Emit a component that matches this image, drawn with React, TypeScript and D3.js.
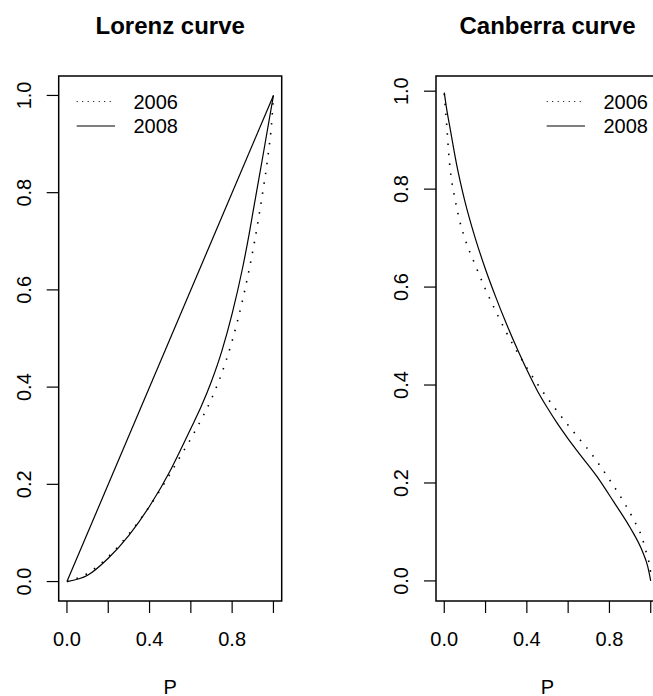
import * as d3 from 'd3'

// Lorenz curve values
const P_LORENZ_2008 = [0, 0.1, 0.2, 0.3, 0.4, 0.5, 0.54, 0.6, 0.65, 0.7, 0.75, 0.8, 0.85, 0.882, 0.9, 0.95, 1]
const LORENZ_2008 = [0, 0.013, 0.048, 0.095, 0.155, 0.228, 0.262, 0.315, 0.36, 0.412, 0.474, 0.551, 0.644, 0.714, 0.758, 0.878, 1]
const P_LORENZ_2006 = [0, 0.1, 0.2, 0.3, 0.4, 0.5, 0.547, 0.6, 0.65, 0.7, 0.75, 0.8, 0.85, 0.88, 0.91, 0.93, 0.95, 0.966, 0.979, 0.99, 1]
const LORENZ_2006 = [0, 0.017, 0.051, 0.098, 0.155, 0.222, 0.256, 0.294, 0.333, 0.376, 0.429, 0.495, 0.578, 0.637, 0.703, 0.7525, 0.806, 0.851, 0.894, 0.936, 1]
const EQUALITY_P = [0, 1]
const EQUALITY_L = [0, 1]

// Canberra curve values
const P_CANB_2008 = [0, 0.01, 0.03, 0.06, 0.1, 0.15, 0.2, 0.25, 0.3, 0.35, 0.4, 0.45, 0.5, 0.55, 0.6, 0.65, 0.74, 0.82, 0.9, 0.96, 0.985, 1]
const CANB_2008 = [0.997, 0.968, 0.92, 0.85, 0.775, 0.7, 0.636, 0.579, 0.526, 0.477, 0.431, 0.389, 0.353, 0.32, 0.29, 0.262, 0.213, 0.162, 0.109, 0.06, 0.03, 0]
const P_CANB_2006 = [0, 0.006, 0.012, 0.023, 0.034, 0.052, 0.073, 0.1, 0.15, 0.2, 0.25, 0.3, 0.35, 0.4, 0.45, 0.5, 0.55, 0.6, 0.65, 0.703, 0.758, 0.814, 0.867, 0.916, 0.959, 0.985, 0.997, 1]
const CANB_2006 = [0.995, 0.962, 0.93, 0.865, 0.823, 0.78, 0.738, 0.699, 0.645, 0.595, 0.55, 0.508, 0.47, 0.435, 0.403, 0.373, 0.345, 0.318, 0.292, 0.265, 0.233, 0.198, 0.163, 0.126, 0.087, 0.047, 0.026, 0.01]

const X_TICKS = [0, 0.2, 0.4, 0.6, 0.8, 1]
const X_TICK_LABELS = ['0.0', '', '0.4', '', '0.8', '']
const Y_TICKS = [0, 0.2, 0.4, 0.6, 0.8, 1]
const Y_TICK_LABELS = ['0.0', '0.2', '0.4', '0.6', '0.8', '1.0']
const LEGEND_LABELS = ['2006', '2008']

const W = 653
const H = 696
const BOX_TOP = 76
const BOX_BOTTOM = 601
const FONT = '"Liberation Sans", Arial, Helvetica, sans-serif'
const DOTS = '1.5 8.5'

const zip = (xs: number[], ys: number[]) => xs.map((x, i) => [x, ys[i]] as [number, number])

type Series = { points: [number, number][]; dotted: boolean }

function Panel({ title, boxLeft, boxRight, yDomain, series, legendRight }: {
  title: string
  boxLeft: number
  boxRight: number
  yDomain: [number, number]
  series: Series[]
  legendRight: boolean
}) {
  const x = d3.scaleLinear().domain([-0.04, 1.04]).range([boxLeft, boxRight])
  const y = d3.scaleLinear().domain(yDomain).range([BOX_BOTTOM, BOX_TOP])
  const line = d3.line<[number, number]>().x((d) => x(d[0])).y((d) => y(d[1])).curve(d3.curveMonotoneX)
  const cx = (boxLeft + boxRight) / 2
  const legX = legendRight ? boxRight - 112.3 : boxLeft + 18
  const legRows = [101.5, 126]

  return (
    <g fontFamily={FONT}>
      <text x={cx} y={34} textAnchor="middle" fontSize={24} fontWeight="bold">{title}</text>
      <rect x={boxLeft} y={BOX_TOP} width={boxRight - boxLeft} height={BOX_BOTTOM - BOX_TOP}
        fill="none" stroke="#000" strokeWidth={1.5} />

      {series.map((s, i) => (
        <path key={i} d={line(s.points) ?? ''} fill="none" stroke="#000" strokeWidth={s.dotted ? 1.6 : 1.2}
          strokeDasharray={s.dotted ? DOTS : undefined} />
      ))}

      {/* x axis */}
      {X_TICKS.map((t, i) => (
        <g key={'x' + i}>
          <line x1={x(t)} x2={x(t)} y1={BOX_BOTTOM} y2={BOX_BOTTOM + 12} stroke="#000" strokeWidth={1.2} />
          {X_TICK_LABELS[i] && (
            <text x={x(t)} y={646} textAnchor="middle" fontSize={20}>{X_TICK_LABELS[i]}</text>
          )}
        </g>
      ))}
      <text x={cx} y={694} textAnchor="middle" fontSize={20}>P</text>

      {/* y axis */}
      {Y_TICKS.map((t, i) => (
        <g key={'y' + i}>
          <line x1={boxLeft - 12} x2={boxLeft} y1={y(t)} y2={y(t)} stroke="#000" strokeWidth={1.2} />
          <text transform={`translate(${boxLeft - 28},${y(t)}) rotate(-90)`} textAnchor="middle" fontSize={20}>
            {Y_TICK_LABELS[i]}
          </text>
        </g>
      ))}

      {/* legend */}
      {LEGEND_LABELS.map((lab, i) => (
        <g key={lab}>
          <line x1={legX} x2={legX + 38.3} y1={legRows[i]} y2={legRows[i]} stroke="#000"
            strokeWidth={1.2} strokeDasharray={i === 0 ? '1 4.5' : undefined} />
          <text x={legX + 56.8} y={legRows[i]} dominantBaseline="central" fontSize={20}>{lab}</text>
        </g>
      ))}
    </g>
  )
}

export default function App() {
  const lorenz: Series[] = [
    { points: zip(EQUALITY_P, EQUALITY_L), dotted: false },
    { points: zip(P_LORENZ_2006, LORENZ_2006), dotted: true },
    { points: zip(P_LORENZ_2008, LORENZ_2008), dotted: false },
  ]
  const canberra: Series[] = [
    { points: zip(P_CANB_2006, CANB_2006), dotted: true },
    { points: zip(P_CANB_2008, CANB_2008), dotted: false },
  ]
  return (
    <svg width={W} height={H} style={{ position: 'absolute', left: 0, top: 0, background: '#fff' }}>
      <rect width={W} height={H} fill="#fff" />
      <Panel title="Lorenz curve" boxLeft={58.7} boxRight={281.7} yDomain={[-0.04, 1.04]}
        series={lorenz} legendRight={false} />
      <Panel title="Canberra curve" boxLeft={436} boxRight={659} yDomain={[-0.041, 1.031]}
        series={canberra} legendRight={true} />
    </svg>
  )
}
